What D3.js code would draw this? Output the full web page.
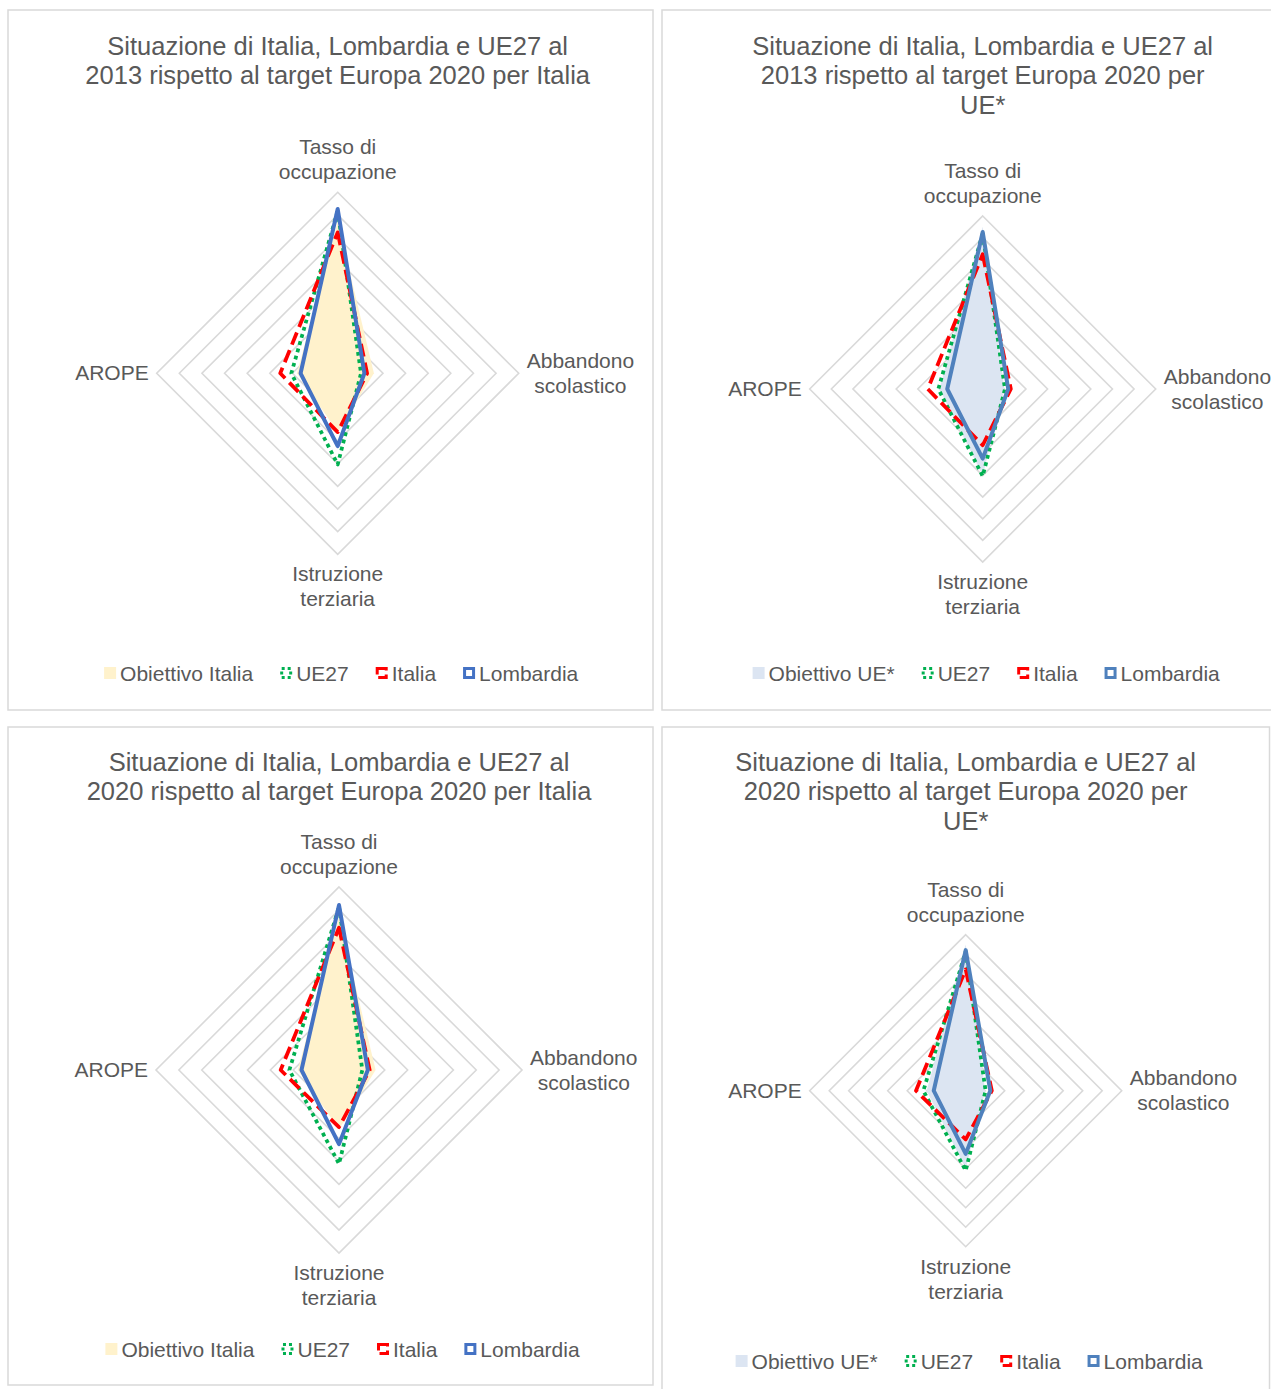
<!DOCTYPE html>
<html>
<head>
<meta charset="utf-8">
<script src="https://cdn.jsdelivr.net/npm/d3@7"></script>
<style>
  html, body { margin: 0; padding: 0; background: #ffffff; }
  svg { display: block; }
  text { font-family: "Liberation Sans", Arial, sans-serif; fill: #595959; }
</style>
</head>
<body>
<svg id="chart" width="1271" height="1389"></svg>
<script>
// Radar axes (clockwise from the top) and their wrapped labels
const axes = ["Tasso di occupazione", "Abbandono scolastico", "Istruzione terziaria", "AROPE"];
const axisLabelLines = [["Tasso di", "occupazione"], ["Abbandono", "scolastico"], ["Istruzione", "terziaria"], ["AROPE"]];

// Gridline values (concentric diamonds)
const ringTicks = [10, 20, 30, 40, 50, 60, 70, 80];

// Europe 2020 targets
const obiettivoItalia = [67, 16, 26, 18];
const obiettivoUE = [75, 10, 40, 20];

// Observed values, 2013
const ue27_2013 = [71.8, 10.3, 40.3, 20.5];
const italia_2013 = [62.3, 13.0, 26.0, 25.4];
const lombardia_2013 = [72.6, 11.8, 32.2, 16.4];

// Observed values, 2020
const ue27_2020 = [71.3, 10.2, 41.0, 21.7];
const italia_2020 = [62.2, 13.4, 25.0, 25.5];
const lombardia_2020 = [72.1, 12.6, 32.4, 16.4];

const titles = [
  ["Situazione di Italia, Lombardia e UE27 al", "2013 rispetto al target Europa 2020 per Italia"],
  ["Situazione di Italia, Lombardia e UE27 al", "2013 rispetto al target Europa 2020 per", "UE*"],
  ["Situazione di Italia, Lombardia e UE27 al", "2020 rispetto al target Europa 2020 per Italia"],
  ["Situazione di Italia, Lombardia e UE27 al", "2020 rispetto al target Europa 2020 per", "UE*"]
];

// Panel layout
const panels = [
  { box: [8, 10, 653, 710], cx: 337.7, cy: 373.3, R: 181, legendY: 673, titleY: 46,
    title: titles[0], target: obiettivoItalia, targetName: "Obiettivo Italia", targetColor: "#fff2cc",
    ue: ue27_2013, it: italia_2013, lo: lombardia_2013, blue: "#4472c4" },
  { box: [662, 10, 1290, 710], cx: 982.7, cy: 389, R: 173, legendY: 673, titleY: 46,
    title: titles[1], target: obiettivoUE, targetName: "Obiettivo UE*", targetColor: "#dce5f2",
    ue: ue27_2013, it: italia_2013, lo: lombardia_2013, blue: "#4f81bd" },
  { box: [8, 727, 653, 1385], cx: 339, cy: 1070, R: 183, legendY: 1349, titleY: 762,
    title: titles[2], target: obiettivoItalia, targetName: "Obiettivo Italia", targetColor: "#fff2cc",
    ue: ue27_2020, it: italia_2020, lo: lombardia_2020, blue: "#4472c4" },
  { box: [662, 727, 1269.5, 1400], cx: 965.7, cy: 1090.7, R: 156, legendY: 1361, titleY: 762,
    title: titles[3], target: obiettivoUE, targetName: "Obiettivo UE*", targetColor: "#dce5f2",
    ue: ue27_2020, it: italia_2020, lo: lombardia_2020, blue: "#4f81bd" }
];

const svg = d3.select("#chart");
const angle = d3.scaleLinear().domain([0, axes.length]).range([0, 2 * Math.PI]);

const styles = {
  ue: { stroke: "#00b050", width: 3.75, dash: "3.75,3.75" },
  it: { stroke: "#ff0000", width: 3.75, dash: "13,6" },
  lo: { width: 4, dash: null }
};

panels.forEach(p => {
  const g = svg.append("g");
  const [x0, y0, x1, y1] = p.box;
  g.append("rect")
    .attr("x", x0).attr("y", y0).attr("width", x1 - x0).attr("height", y1 - y0)
    .attr("fill", "#ffffff").attr("stroke", "#d9d9d9").attr("stroke-width", 1.5);

  // Title
  g.append("text")
    .attr("text-anchor", "middle")
    .style("font-size", "25.5px")
    .selectAll("tspan").data(p.title).join("tspan")
    .attr("x", p.cx)
    .attr("y", (d, i) => p.titleY + 9 + i * 29.3)
    .text(d => d);

  const r = d3.scaleLinear().domain([0, 80]).range([0, p.R]);
  const plot = g.append("g").attr("transform", `translate(${p.cx},${p.cy})`);

  const radial = d3.lineRadial()
    .angle((d, i) => angle(i))
    .radius(d => r(d))
    .curve(d3.curveLinearClosed);

  // Gridlines
  plot.selectAll("path.ring").data(ringTicks).join("path")
    .attr("class", "ring")
    .attr("d", t => radial(axes.map(() => t)))
    .attr("fill", "none").attr("stroke", "#d9d9d9").attr("stroke-width", 1.6);

  // Target area
  plot.append("path")
    .attr("d", radial(p.target))
    .attr("fill", p.targetColor).attr("stroke", "none");

  // Series outlines
  [["ue", p.ue, styles.ue.stroke], ["it", p.it, styles.it.stroke], ["lo", p.lo, p.blue]].forEach(([k, vals, col]) => {
    plot.append("path")
      .attr("d", radial(vals))
      .attr("fill", "none")
      .attr("stroke", col)
      .attr("stroke-width", styles[k].width)
      .attr("stroke-linejoin", "round")
      .attr("stroke-dasharray", styles[k].dash);
  });

  // Axis labels
  const fs = 21, lh = 25, gap = 8;
  axisLabelLines.forEach((lines, i) => {
    const t = plot.append("text").style("font-size", fs + "px");
    const sp = t.selectAll("tspan").data(lines).join("tspan").text(d => d);
    if (i === 0) {
      t.attr("text-anchor", "middle");
      sp.attr("x", 0).attr("y", (d, j) => -p.R - 20 - (lines.length - 1 - j) * lh + 7);
    } else if (i === 2) {
      t.attr("text-anchor", "middle");
      sp.attr("x", 0).attr("y", (d, j) => p.R + 20 + j * lh + 7);
    } else if (i === 1) {
      let w = 0;
      sp.each(function () { w = Math.max(w, this.getComputedTextLength()); });
      t.attr("text-anchor", "middle");
      sp.attr("x", p.R + gap + w / 2).attr("y", (d, j) => (j - (lines.length - 1) / 2) * lh + 7);
    } else {
      t.attr("text-anchor", "end");
      sp.attr("x", -p.R - gap).attr("y", (d, j) => (j - (lines.length - 1) / 2) * lh + 7);
    }
  });

  // Legend
  const items = [
    { name: p.targetName, type: "fill", color: p.targetColor },
    { name: "UE27", type: "line", color: styles.ue.stroke, dash: "3,3" },
    { name: "Italia", type: "line", color: styles.it.stroke, dash: "11,4" },
    { name: "Lombardia", type: "line", color: p.blue, dash: null }
  ];
  const legGap = 27;
  const leg = g.append("g");
  let x = 0;
  items.forEach((it, i) => {
    const ig = leg.append("g").attr("transform", `translate(${x},0)`);
    if (it.type === "fill") {
      ig.append("rect").attr("x", 0).attr("y", -6).attr("width", 12).attr("height", 12).attr("fill", it.color);
    } else {
      ig.append("rect").attr("x", 1.5).attr("y", -4.5).attr("width", 9).attr("height", 9)
        .attr("fill", "#ffffff").attr("stroke", it.color).attr("stroke-width", 3)
        .attr("stroke-dasharray", it.dash);
    }
    const tx = ig.append("text").attr("x", 16).attr("y", 7.5).style("font-size", "21px").text(it.name);
    x += 16 + tx.node().getComputedTextLength() + legGap;
  });
  const total = x - legGap;
  leg.attr("transform", `translate(${p.cx + 3.5 - total / 2},${p.legendY})`);
});
</script>
</body>
</html>
